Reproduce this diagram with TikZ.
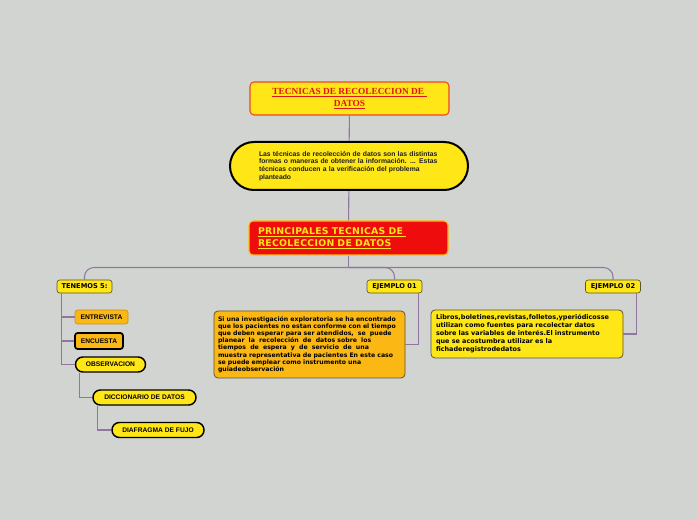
\documentclass[tikz,border=0pt]{standalone}
\usepackage{fontspec}
\usetikzlibrary{calc}
\setmainfont{Liberation Serif}
\newfontfamily\arialf{Liberation Sans}
\newfontfamily\verdf{DejaVu Sans}
\newfontfamily\verdsp[LetterSpace=3]{DejaVu Sans}
\definecolor{bgc}{RGB}{210,212,209}
\definecolor{yel}{RGB}{255,230,22}
\definecolor{org}{RGB}{251,183,20}
\definecolor{redf}{RGB}{238,12,12}
\definecolor{lnc}{RGB}{145,118,160}
\definecolor{ttl}{RGB}{222,22,22}
\definecolor{dkb}{RGB}{95,85,45}
\begin{document}
\begin{tikzpicture}[x=0.75pt,y=-0.75pt,
  conn/.style={draw=lnc,line width=0.8pt,rounded corners=7pt},
  tree/.style={draw=lnc,line width=0.8pt},
  tag/.style={draw=dkb,fill=yel,line width=0.5pt,rounded corners=2pt,inner sep=0pt,
    minimum width=41.25pt,minimum height=9.75pt,font=\verdf\bfseries\fontsize{5}{6}\selectfont},
  pill/.style={draw=black,fill=yel,line width=1.1pt,rounded corners=5.5pt,inner sep=0pt,
    minimum height=11.25pt,font=\arialf\bfseries\fontsize{5}{6}\selectfont},
  obox/.style={fill=org,rounded corners=2pt,inner sep=0pt,minimum height=10.5pt,
    font=\arialf\bfseries\fontsize{5}{6}\selectfont},
  para/.style={draw=dkb,line width=0.6pt,rounded corners=3pt,align=left,inner ysep=0pt,
    font=\verdf\bfseries\fontsize{4.65}{5.4}\selectfont}
]
\fill[bgc] (0,0) rectangle (697,520);
\useasboundingbox (0,0) rectangle (697,520);

\node[draw={rgb,255:red,240;green,70;blue,40},fill=yel,line width=0.8pt,rounded corners=3pt,
  minimum width=149.25pt,minimum height=24.75pt,inner sep=0pt,align=center,
  text=ttl,font=\bfseries\fontsize{7}{8.8}\selectfont]
  (title) at (349.5,98.5) {\underline{TECNICAS DE RECOLECCION DE }\\\underline{DATOS}};

\node[draw=black,fill=yel,line width=1.5pt,rounded corners=18pt,
  minimum width=178.5pt,minimum height=36pt,text width=135pt,inner xsep=21.75pt,inner ysep=0pt,
  align=left,text={rgb,255:red,30;green,30;blue,30},font=\arialf\bfseries\fontsize{5.1}{5.8}\selectfont]
  (intro) at (349,166) {Las técnicas de recolección de datos son las distintas\\
  formas o maneras de obtener la información. ... Estas\\
  técnicas conducen a la verificación del problema\\
  planteado};

\node[draw={rgb,255:red,250;green,190;blue,20},fill=redf,line width=0.8pt,rounded corners=3pt,
  minimum height=25.5pt,text width=135.75pt,inner xsep=6.75pt,inner ysep=0pt,align=left,
  text=yel,font=\verdsp\bfseries\fontsize{7}{9}\selectfont]
  (princ) at (348.5,238) {\underline{PRINCIPALES TECNICAS DE }\\\underline{RECOLECCION DE DATOS}};

\node[tag] (ten) at (84.5,286.5) {TENEMOS 5:};
\node[tag] (e1) at (394.5,286.5) {EJEMPLO 01};
\node[tag] (e2) at (613,286.5) {EJEMPLO 02};

\node[obox,draw={rgb,255:red,205;green,145;blue,20},line width=0.5pt,minimum width=39.75pt]
  (entre) at (101.5,317) {ENTREVISTA};
\node[obox,draw=black,line width=1.3pt,minimum width=36pt,minimum height=12pt]
  (encu) at (99,341) {ENCUESTA};
\node[pill,minimum width=52.5pt] (obs) at (110.5,364.5) {OBSERVACION};
\node[pill,minimum width=77.25pt] (dic) at (144.5,397.5) {DICCIONARIO DE DATOS};
\node[pill,minimum width=69pt] (dia) at (158,430) {DIAFRAGMA DE FUJO};

\node[para,fill=org,minimum width=143.25pt,minimum height=50.25pt,text width=137.25pt,inner xsep=3pt]
  (ex1) at (309.5,344.5) {Si una investigación exploratoria se ha encontrado\\
  que los pacientes no estan conforme con el tiempo\\
  que deben esperar para ser atendidos,\ \ se\ \ puede\\
  planear\ \ la\ \ recolección\ \ de\ \ datos sobre\ \ los\\
  tiempos\ \ de\ \ espera\ \ y\ \ de\ \ servicio\ \ de\ \ una\\
  muestra representativa de pacientes En este caso\\
  se puede emplear como instrumento una\\
  guiadeobservación};

\node[para,fill=yel,minimum width=144pt,minimum height=36pt,text width=136.5pt,inner xsep=3.75pt,
  font=\verdf\bfseries\fontsize{4.85}{6}\selectfont]
  (ex2) at (527,334) {Libros,boletines,revistas,folletos,yperiódicosse\\
  utilizan como fuentes para recolectar datos\\
  sobre las variables de interés.El instrumento\\
  que se acostumbra utilizar es la\\
  fichaderegistrodedatos};

% connectors
\draw[tree] (title) -- (intro);
\draw[tree] (intro) -- (princ);
\coordinate (hub) at ($(princ.south)+(0,12)$);
\draw[tree] (princ.south) -- (hub);
\draw[conn] (hub) -| (ten.north);
\draw[conn] (hub) -| (e1.north);
\draw[conn] (hub) -| (e2.north);

\draw[tree] ([xshift=3.75pt]ten.south west) |- (entre.west);
\draw[tree] ([xshift=3.75pt]ten.south west) |- (encu.west);
\draw[tree] ([xshift=3.75pt]ten.south west) |- (obs.west);
\draw[tree] ([xshift=3.4pt]obs.south west) |- (dic.west);
\draw[tree] ([xshift=3.75pt]dic.south west) |- (dia.west);
\draw[tree] ([xshift=-3pt]e1.south east) |- (ex1.east);
\draw[tree] ([xshift=-3pt]e2.south east) |- (ex2.east);
\end{tikzpicture}
\end{document}
